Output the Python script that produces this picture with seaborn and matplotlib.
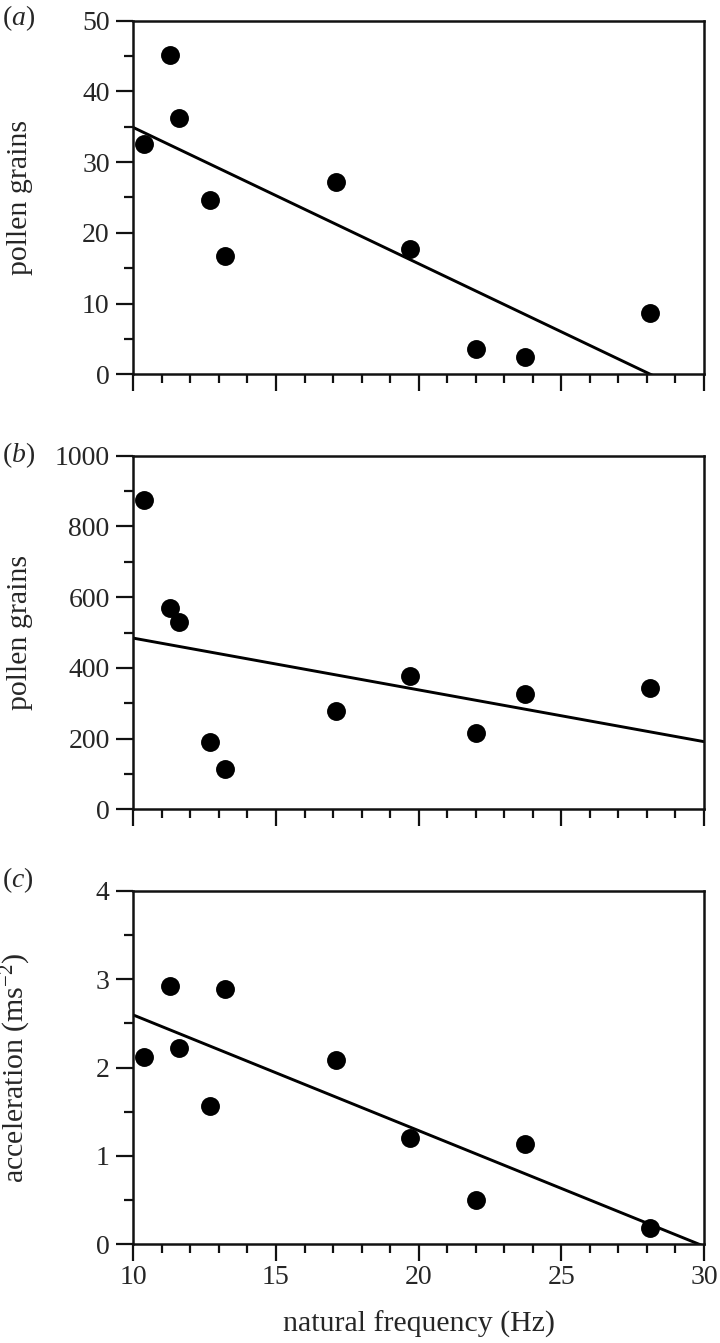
import numpy as np
import pandas as pd
import matplotlib
matplotlib.use("Agg")
import matplotlib.pyplot as plt
from matplotlib.ticker import MultipleLocator
import seaborn as sns

# ---- data ----
freq = [10.37, 11.29, 11.59, 12.69, 13.2, 17.1, 19.68, 22.0, 23.71, 28.1]
pollen_a = [32.5, 45.2, 36.2, 24.6, 16.7, 27.2, 17.7, 3.6, 2.4, 8.6]
pollen_b = [876, 569, 530, 190, 115, 277, 378, 216, 327, 342]
accel = [2.12, 2.92, 2.22, 1.56, 2.89, 2.09, 1.20, 0.50, 1.13, 0.19]

panel_tags = ["a", "b", "c"]
ylabels = ["pollen grains", "pollen grains", r"acceleration (ms$^{-2}$)"]
ylims = [(0, 50), (0, 1000), (0, 4)]
ymajor = [10, 200, 1]
yminor = [5, 100, 0.5]
xlim = (10, 30)

sns.set_style("ticks")
plt.rcParams['font.family'] = ['Liberation Serif', 'DejaVu Serif']
plt.rcParams['mathtext.fontset'] = 'custom'
plt.rcParams['mathtext.rm'] = 'Liberation Serif'
plt.rcParams['mathtext.it'] = 'Liberation Serif:italic'
plt.rcParams['mathtext.bf'] = 'Liberation Serif:bold'

W, H = 720, 1343
fig = plt.figure(figsize=(W / 100, H / 100), dpi=100)

left_px, right_px = 133.3, 704
tops = [20.7, 455.7, 890.7]
bottoms = [374.3, 809.3, 1244.3]
label_y = [18, 455, 880]

datasets = [pollen_a, pollen_b, accel]
FS = 20
LFS = 21.5

for i in range(3):
    ax = fig.add_axes([left_px / W, 1 - bottoms[i] / H,
                       (right_px - left_px) / W, (bottoms[i] - tops[i]) / H])
    df = pd.DataFrame({"freq": freq, "val": datasets[i]})
    ax.set_xlim(*xlim)
    sns.regplot(data=df, x="freq", y="val", ax=ax, ci=None, truncate=False,
                scatter_kws=dict(s=185, color="black", linewidths=0, alpha=1),
                line_kws=dict(color="black", lw=2.1))
    ax.set_xlim(*xlim)
    ax.set_ylim(*ylims[i])
    ax.xaxis.set_major_locator(MultipleLocator(5))
    ax.xaxis.set_minor_locator(MultipleLocator(1))
    ax.yaxis.set_major_locator(MultipleLocator(ymajor[i]))
    ax.yaxis.set_minor_locator(MultipleLocator(yminor[i]))
    for s in ax.spines.values():
        s.set_visible(True)
        s.set_linewidth(1.8)
        s.set_color("#111111")
    ax.tick_params(which="major", direction="out", length=12, width=1.6,
                   labelsize=FS, pad=5, color="#111111", top=False, right=False)
    ax.tick_params(which="minor", direction="out", length=6.5, width=1.6,
                   color="#111111", top=False, right=False)
    ax.tick_params(axis="x", which="major", pad=3)
    ax.set_ylabel(ylabels[i], fontsize=LFS)
    ax.yaxis.set_label_coords(-0.175, 0.5)
    if i < 2:
        ax.set_xlabel("")
        ax.tick_params(axis="x", labelbottom=False)
    else:
        ax.set_xlabel("natural frequency (Hz)", fontsize=LFS, labelpad=15)
    fig.text(2 / W, 1 - label_y[i] / H, "($\\mathit{%s}$)" % panel_tags[i],
             fontsize=FS, va="center", ha="left")

fig.savefig("out.png", dpi=100, facecolor="white")
